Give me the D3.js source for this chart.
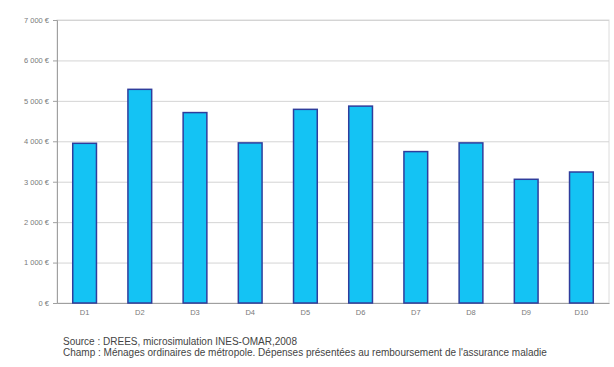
<!DOCTYPE html>
<html>
<head>
<meta charset="utf-8">
<script src="https://cdn.jsdelivr.net/npm/d3@7"></script>
<style>
	body { margin: 0; background: #fff; }
	svg { display: block; font-family: "Liberation Sans", Arial, sans-serif; }
</style>
</head>
<body>
<script>

var deciles = ["D1", "D2", "D3", "D4", "D5", "D6", "D7", "D8", "D9", "D10"];
var depenses = [3950, 5285, 4710, 3960, 4790, 4870, 3745, 3960, 3060, 3240];
var yTicks = [0, 1000, 2000, 3000, 4000, 5000, 6000, 7000];
var notes = [
	"Source : DREES, microsimulation INES-OMAR,2008",
	"Champ : Ménages ordinaires de métropole. Dépenses présentées au remboursement de l'assurance maladie"
];

var width = 614, height = 367;
var margin = { top: 20, right: 5, bottom: 64, left: 57 };

var svg = d3.select("body")
	.append("svg")
	.attr("width", width)
	.attr("height", height);

var x = d3.scaleBand()
	.domain(deciles)
	.range([margin.left, width - margin.right])
	.paddingInner(0.57)
	.paddingOuter(0.285);

var y = d3.scaleLinear()
	.domain([0, 7000])
	.range([height - margin.bottom, margin.top]);

// plot area border
svg.append("rect")
	.attr("x", margin.left)
	.attr("y", margin.top)
	.attr("width", width - margin.right - margin.left)
	.attr("height", y(0) - margin.top)
	.attr("fill", "none")
	.attr("stroke", "#dcdcdc");

// grid lines
svg.append("g")
	.selectAll("line")
	.data(yTicks)
	.enter()
	.append("line")
	.attr("x1", margin.left)
	.attr("x2", width - margin.right)
	.attr("y1", function(d) { return y(d) + 0.5; })
	.attr("y2", function(d) { return y(d) + 0.5; })
	.attr("stroke", "#d4d4d4");

var fmt = function(d) {
	return d3.format(",")(d).replace(",", "\u00a0") + " €";
};

var yAxis = svg.append("g")
	.attr("transform", "translate(" + margin.left + ",0)")
	.call(d3.axisLeft(y).tickValues(yTicks).tickFormat(fmt).tickSize(4).tickPadding(4));

yAxis.select(".domain").attr("stroke", "#a0a0a0");
yAxis.selectAll(".tick line").attr("stroke", "#a0a0a0");
yAxis.selectAll("text")
	.attr("fill", "#7a7a7a")
	.style("font-size", "7.5px");

var xAxis = svg.append("g")
	.attr("transform", "translate(0," + y(0) + ")")
	.call(d3.axisBottom(x).tickSize(0).tickPadding(7));

xAxis.select(".domain").attr("stroke", "#a0a0a0");
xAxis.selectAll("text")
	.attr("fill", "#7a7a7a")
	.style("font-size", "7.5px");

// bars
svg.append("g")
	.selectAll("rect")
	.data(depenses)
	.enter()
	.append("rect")
	.attr("x", function(d, i) { return x(deciles[i]); })
	.attr("y", function(d) { return y(d); })
	.attr("width", x.bandwidth())
	.attr("height", function(d) { return y(0) - y(d); })
	.style("fill", "#14c3f4")
	.style("stroke", "#2f3d9c")
	.style("stroke-width", 1.5);

// source notes
svg.append("g")
	.selectAll("text")
	.data(notes)
	.enter()
	.append("text")
	.attr("x", 63)
	.attr("y", function(d, i) { return 345 + i * 11; })
	.attr("fill", "#444")
	.style("font-size", "10px")
	.text(function(d) { return d; });

</script>
</body>
</html>
